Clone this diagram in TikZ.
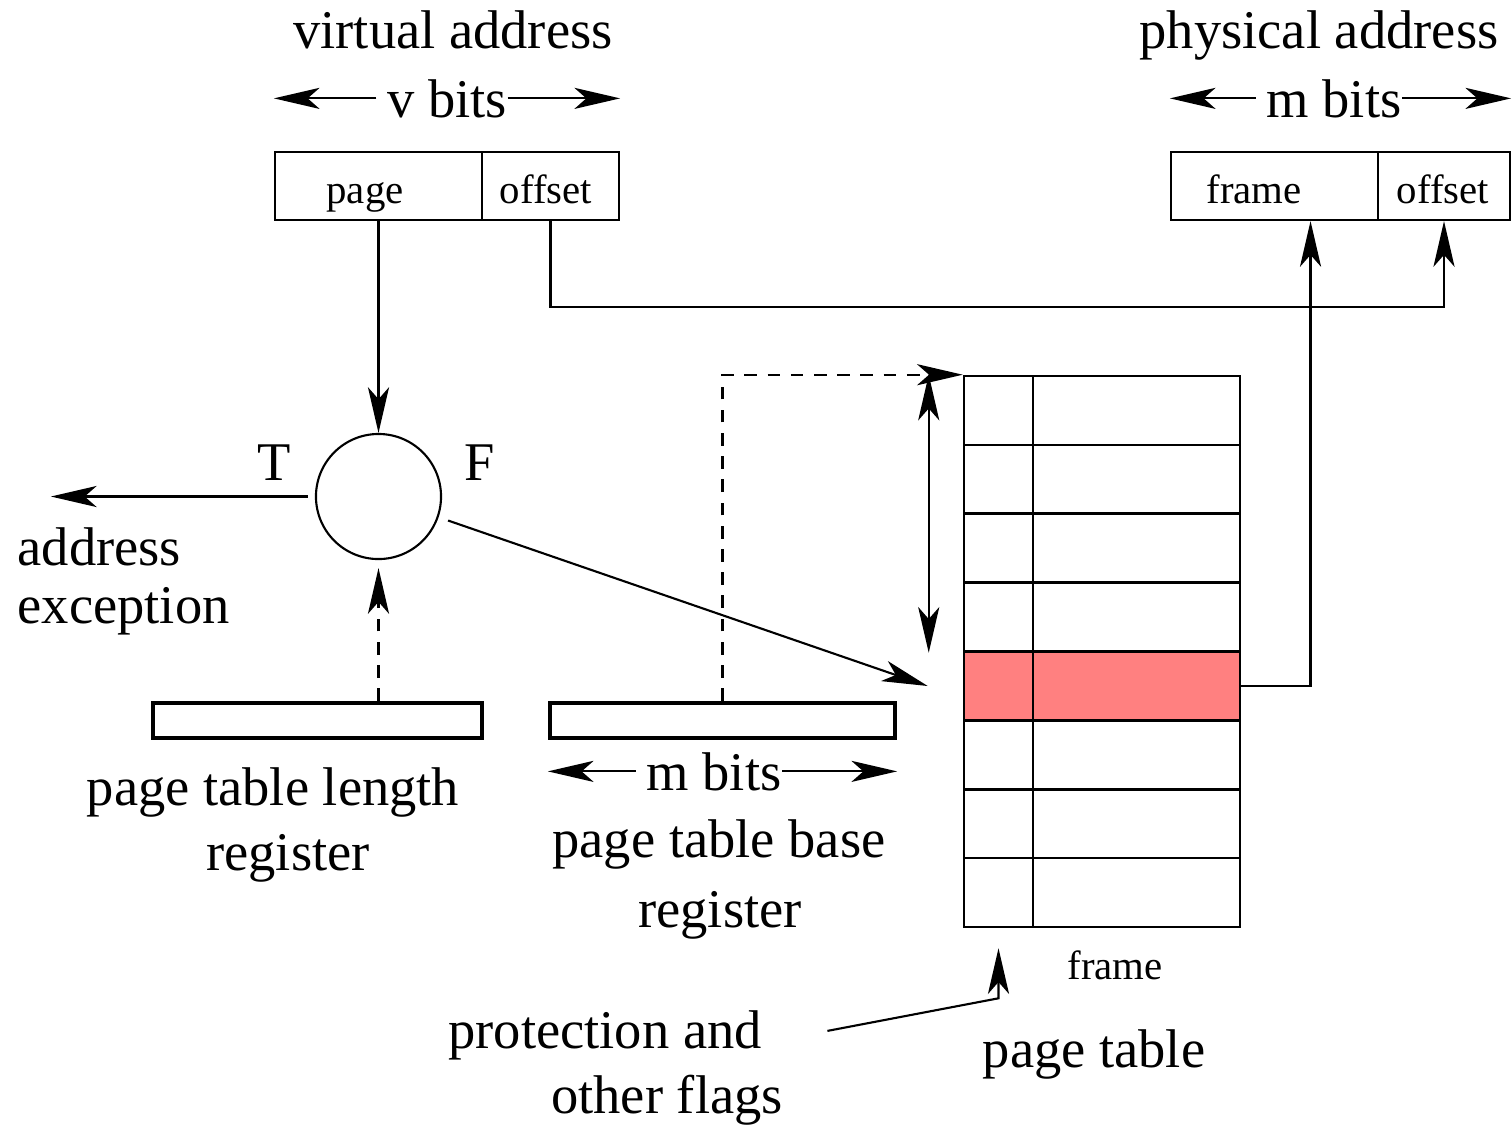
\documentclass[tikz,border=0pt]{standalone}
\usepackage{fontspec}
\setmainfont{Liberation Serif}
\usetikzlibrary{arrows.meta}
\definecolor{rowpink}{RGB}{255,128,128}
\tikzset{
  figtip/.tip={Stealth[length=13pt,width=6pt,inset=3.4pt]},
  arr/.style={-figtip, line width=0.6pt},
  dbl/.style={figtip-figtip, line width=0.6pt},
  dsh/.style={dash pattern=on 3.6pt off 3pt},
  big/.style={font=\fontsize{15.5}{18}\selectfont, inner sep=0pt},
  small/.style={font=\fontsize{11.6}{14}\selectfont, inner sep=0pt},
  field/.style={draw, line width=0.6pt, minimum height=0.68cm, inner sep=0pt},
  reg/.style={draw, line width=1.15pt, minimum height=0.35cm, inner sep=0pt},
  cell/.style={draw, line width=0.7pt, minimum height=0.689cm, inner sep=0pt},
}
\begin{document}
\begin{tikzpicture}[x=0.01cm,y=-0.01cm]
            \useasboundingbox (0,0) rectangle (1512,1129);

            % virtual and physical address
            \node[field, minimum width=2.07cm] (vpage) at (378.5,186) {};
            \node[field, minimum width=1.37cm] (voff) at (550.5,186) {};
            \node[field, minimum width=2.07cm] (pframe) at (1274.5,186) {};
            \node[field, minimum width=1.32cm] (poff) at (1444,186) {};
            \node[small, anchor=base] (vpagetxt) at (365,203) {page};
            \node[small, anchor=base] (vofftxt) at (546,203) {offset};
            \node[small, anchor=base] (pframetxt) at (1254,203) {frame};
            \node[small, anchor=base] (pofftxt) at (1443,203) {offset};

            \node[big, anchor=base] (vtitle) at (453,48) {virtual address};
            \node[big, anchor=base] (ptitle) at (1319,48) {physical address};
            \node[big, anchor=base] (vbits) at (447,117) {v bits};
            \node[big, anchor=base] (pbits) at (1334,117) {m bits};
            \draw[arr, shorten <=0.1cm] (vbits.west) -- (vbits.west -| vpage.north west);
            \draw[arr] (vbits.east) -- (vbits.east -| voff.north east);
            \draw[arr, shorten <=0.1cm] (pbits.west) -- (pbits.west -| pframe.north west);
            \draw[arr] (pbits.east) -- (pbits.east -| poff.north east);

            % check against length register
            \node[draw, circle, line width=0.6pt, minimum size=1.25cm] (chk) at (378.5,496.5) {};
            \node[big, anchor=base] (tlbl) at (274,480) {T};
            \node[big, anchor=base] (flbl) at (480,480) {F};
            \node[big, anchor=base west] (exc1) at (17,565) {address};
            \node[big, anchor=base west] (exc2) at (17,623) {exception};

            % registers
            \node[reg, minimum width=3.29cm] (ptlr) at (317.5,720.5) {};
            \node[reg, minimum width=3.45cm] (ptbr) at (722.5,720.5) {};
            \node[big, anchor=base] (ptlr1) at (273,805) {page table length};
            \node[big, anchor=base] (ptlr2) at (288,870) {register};
            \node[big, anchor=base] (rbits) at (714,790) {m bits};
            \node[big, anchor=base] (ptbr1) at (719,857) {page table base};
            \node[big, anchor=base] (ptbr2) at (720,927) {register};
            \draw[arr, shorten <=0.1cm] (rbits.west) -- (rbits.west -| ptbr.south west);
            \draw[arr] (rbits.east) -- (rbits.east -| ptbr.south east);

            % page table
            \foreach \r in {0,...,7}
            {
                \node[cell, minimum width=0.69cm] (f\r) at (998.5, 410.4+\r*68.875) {};
                \node[cell, minimum width=2.07cm] (e\r) at (1136.5, 410.4+\r*68.875) {};
            }
            \node[cell, fill=rowpink, minimum width=0.69cm] (hf) at (998.5, 686) {};
            \node[cell, fill=rowpink, minimum width=2.07cm] (he) at (1136.5, 686) {};
            \node[small, anchor=base] (frametxt) at (1115,979) {frame};
            \node[big, anchor=base] (ptname) at (1094,1067) {page table};
            \node[big, anchor=base] (prot1) at (605,1048) {protection and};
            \node[big, anchor=base] (prot2) at (667,1113) {other flags};

            % connectors
            \draw[arr] (vpage.south) -- (chk.north);
            \draw[arr] (voff.south) -- ++(0,86) -| (poff.south);
            \draw[arr] (he.east) -| ([xshift=0.36cm]pframe.south);
            \draw[arr, shorten <=0.07cm] (chk.west) -- ++(-264,0);
            \draw[arr, shorten <=0.1cm] (chk) -- ([xshift=-0.35cm]hf.west);
            \draw[arr, dsh, shorten >=0.08cm] (ptlr.north -| chk.south) -- (chk.south);
            \draw[arr, dsh] (ptbr.north) |- (f0.north west);
            \draw[dbl] ([xshift=-0.34cm]f0.north west) -- ([xshift=-0.34cm]f3.south west);
            \draw[arr, shorten >=0.2cm] ([xshift=0.65cm,yshift=0.04cm]prot1.east) -- ([yshift=-0.7cm]f7.south) -- (f7.south);
        \end{tikzpicture}
\end{document}
